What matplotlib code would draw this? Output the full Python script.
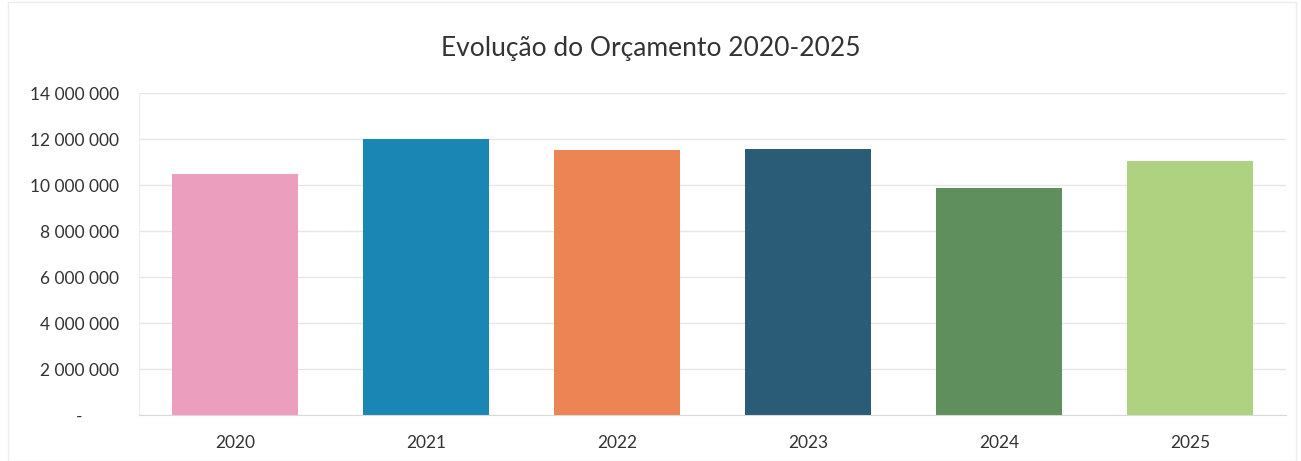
import matplotlib.pyplot as plt
from matplotlib.ticker import FuncFormatter
from matplotlib.patches import Rectangle

years = ["2020", "2021", "2022", "2023", "2024", "2025"]
budget = [10480000, 12010000, 11530000, 11570000, 9870000, 11070000]
colors = ["#EC9EBE", "#1A86B4", "#EC8454", "#2A5B77", "#5E8F5C", "#AED27F"]
yticks = [0, 2000000, 4000000, 6000000, 8000000, 10000000, 12000000, 14000000]


def fmt(v, pos):
    if v == 0:
        return "-        "
    return "{:,.0f}".format(v).replace(",", " ")


plt.rcParams['font.family'] = ['Lato', 'DejaVu Sans']

fig = plt.figure(figsize=(13.01, 4.61), dpi=100, facecolor="w")
fig.patches.append(Rectangle((0.006, 0.0), 0.99, 0.995, transform=fig.transFigure,
                             fill=False, ec="#EDEDED", lw=1))
ax = fig.add_axes([0.1072, 0.0991, 0.881, 0.699])

x = range(len(years))
ax.bar(x, budget, width=0.66, color=colors, zorder=2)
ax.set_xlim(-0.5, len(years) - 0.5)
ax.set_ylim(0, 14000000)
ax.set_yticks(yticks)
ax.yaxis.set_major_formatter(FuncFormatter(fmt))
ax.set_xticks(list(x))
ax.set_xticklabels(years)
ax.grid(True, axis="y", color="#E6E6E6", lw=1, zorder=0)
for s in ["top", "right"]:
    ax.spines[s].set_visible(False)
ax.spines["left"].set_color("#EDEDED")
ax.spines["bottom"].set_color("#D9D9D9")
ax.tick_params(axis="both", length=0, labelsize=12.5, colors="#333333")
ax.tick_params(axis="y", pad=15)
ax.tick_params(axis="x", pad=14)

fig.text(0.5, 0.895, "Evolução do Orçamento 2020-2025", ha="center", va="center",
         fontsize=19, color="#333333")

fig.savefig("out.png", dpi=100)
